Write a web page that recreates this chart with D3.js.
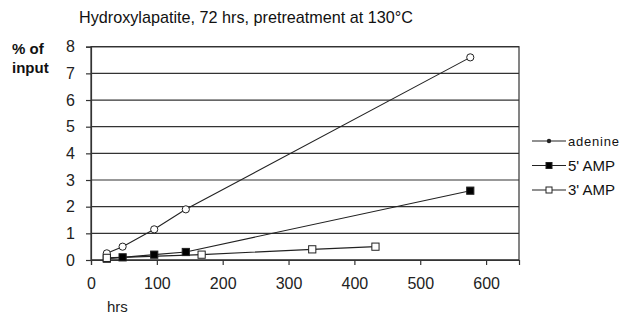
<!DOCTYPE html>
<html><head><meta charset="utf-8">
<script src="https://cdn.jsdelivr.net/npm/d3@7"></script>
<style>body{margin:0;background:#fff}svg{display:block;font-family:"Liberation Sans",Arial,sans-serif}</style>
</head><body><svg id="c" width="621" height="314"></svg>
<script>
const xTicks = [0,100,200,300,400,500,600];
const yTicks = [0,1,2,3,4,5,6,7,8];
const adenineHrs = [24,48,96,144,576];
const adenineVals = [0.25,0.5,1.15,1.9,7.6];
const amp5Hrs = [24,48,96,144,576];
const amp5Vals = [0.05,0.1,0.2,0.3,2.6];
const amp3Hrs = [24,168,336,432];
const amp3Vals = [0.08,0.2,0.4,0.5];
const seriesNames = ["adenine","5' AMP","3' AMP"];

const svg = d3.select("#c");
const x = d3.scaleLinear().domain([0,650]).range([91,519]);
const y = d3.scaleLinear().domain([0,8]).range([260,46.7]);

svg.append("text").attr("x",246).attr("y",23).attr("text-anchor","middle")
  .attr("font-size",16.2).attr("fill","#111").text("Hydroxylapatite, 72 hrs, pretreatment at 130°C");

// gridlines
svg.append("g").selectAll("line").data(yTicks).join("line")
  .attr("x1",x(0)).attr("x2",x(650)).attr("y1",d=>y(d)).attr("y2",d=>y(d))
  .attr("stroke","#333").attr("stroke-width",1.2);
// frame
svg.append("rect").attr("x",x(0)).attr("y",y(8)).attr("width",x(650)-x(0)).attr("height",y(0)-y(8))
  .attr("fill","none").attr("stroke","#333").attr("stroke-width",1.2);

const yAxis = svg.append("g").attr("transform",`translate(${x(0)},0)`)
  .call(d3.axisLeft(y).tickValues(yTicks).tickSize(5).tickPadding(11).tickFormat(d3.format("d")));
const xAxis = svg.append("g").attr("transform",`translate(0,${y(0)})`)
  .call(d3.axisBottom(x).tickValues(xTicks).tickSize(5).tickPadding(13).tickFormat(d3.format("d")));
[yAxis,xAxis].forEach(a=>{
  a.select(".domain").attr("stroke","#333").attr("stroke-width",1.2);
  a.selectAll(".tick line").attr("stroke","#333").attr("stroke-width",1.2);
  a.selectAll("text").attr("font-size",16).attr("fill","#222").attr("font-family","Liberation Sans, Arial, sans-serif");
});

svg.append("text").attr("x",12).attr("y",54).attr("font-size",15).attr("font-weight","bold").attr("fill","#111").text("% of");
svg.append("text").attr("x",12).attr("y",73).attr("font-size",15).attr("font-weight","bold").attr("fill","#111").text("input");
svg.append("text").attr("x",107).attr("y",312).attr("font-size",15).attr("fill","#222").text("hrs");

const line = d3.line().x(d=>x(d[0])).y(d=>y(d[1]));
const series = [
  {hrs:adenineHrs, vals:adenineVals, shape:"circle", fill:"#fff"},
  {hrs:amp5Hrs, vals:amp5Vals, shape:"square", fill:"#000"},
  {hrs:amp3Hrs, vals:amp3Vals, shape:"square", fill:"#fff"}
];
series.forEach(s=>{
  const pts = s.hrs.map((h,i)=>[h,s.vals[i]]);
  svg.append("path").datum(pts).attr("d",line).attr("fill","none").attr("stroke","#222").attr("stroke-width",1.1);
});
series.forEach(s=>{
  const pts = s.hrs.map((h,i)=>[h,s.vals[i]]);
  const g = svg.append("g");
  if (s.shape==="circle") {
    g.selectAll("circle").data(pts).join("circle").attr("cx",d=>x(d[0])).attr("cy",d=>y(d[1])).attr("r",3.6)
      .attr("fill",s.fill).attr("stroke","#222").attr("stroke-width",1);
  } else {
    g.selectAll("rect").data(pts).join("rect").attr("x",d=>x(d[0])-3.6).attr("y",d=>y(d[1])-3.6)
      .attr("width",7.2).attr("height",7.2).attr("fill",s.fill).attr("stroke","#222").attr("stroke-width",1);
  }
});

// legend
const legY = [141,165.5,190];
series.forEach((s,i)=>{
  const g = svg.append("g").attr("transform",`translate(0,${legY[i]})`);
  g.append("line").attr("x1",532).attr("x2",566).attr("y1",0).attr("y2",0).attr("stroke","#222").attr("stroke-width",1.2);
  if (s.shape==="circle") g.append("circle").attr("cx",549).attr("cy",0).attr("r",2.2).attr("fill","#222");
  else g.append("rect").attr("x",546).attr("y",-3).attr("width",6).attr("height",6)
        .attr("fill",s.fill).attr("stroke","#222").attr("stroke-width",1);
  g.append("text").attr("x",568).attr("y",5).attr("font-size",i===0?13:15).attr("fill","#111")
    .attr("textLength",i===0?51:null).text(seriesNames[i]);
});
</script></body></html>
